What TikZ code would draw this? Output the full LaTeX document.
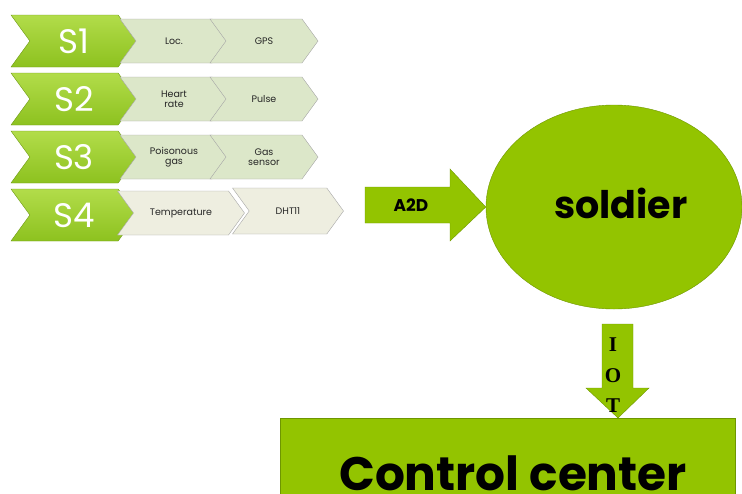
\documentclass[tikz,border=0pt]{standalone}
\usepackage{fontspec}
\setmainfont{Poppins}
\newfontfamily\iotfont{Liberation Serif}
\usetikzlibrary{shapes.symbols, shapes.geometric, shapes.arrows, positioning}

\definecolor{leafgreen}{HTML}{8DC21F}
\definecolor{leaflight}{HTML}{B2DC4A}
\definecolor{leafdark}{HTML}{6E9A14}
\definecolor{palegreen}{HTML}{DCE7C9}
\definecolor{palecream}{HTML}{EEEEE0}
\definecolor{olivegreen}{HTML}{93C400}
\definecolor{olivedark}{HTML}{6E9600}

\begin{document}
\begin{tikzpicture}[
  x=1pt, y=-1pt,
  sensor/.style={signal, signal to=east, signal from=west, signal pointer angle=108,
    minimum width=126pt, minimum height=52pt, inner sep=0pt, draw=leafdark, thin,
    top color=leaflight, bottom color=leafgreen, text=white, font=\fontsize{34}{34}\selectfont},
  item/.style={signal, signal to=east, signal from=west, signal pointer angle=108,
    minimum width=108pt, minimum height=44pt, inner sep=0pt, draw=gray!70, thin,
    fill=palegreen, text=black!85, align=center, font=\fontsize{9.5}{10.5}\selectfont},
  itemlight/.style={item, fill=palecream},
  bigarrow/.style={fill=olivegreen, draw=olivedark, thin},
  bold/.style={font=\bfseries\fontsize{#1}{#1}\selectfont},
  iotletter/.style={font=\iotfont\bfseries\fontsize{21}{21}\selectfont, inner sep=0pt}
]
  \useasboundingbox (0,0) rectangle (742,493);

  % sensor rows
  \node[sensor] (s1) at (74,41) {S1};
  \node[item] (loc) at (174,41) {Loc.};
  \node[item] (gps) at (264,41) {GPS};

  \node[sensor] (s2) at (74,99) {S2};
  \node[item] (heart) at (174,99) {Heart\\rate};
  \node[item] (pulse) at (264,99) {Pulse};

  \node[sensor] (s3) at (74,157) {S3};
  \node[item] (poison) at (174,157) {Poisonous\\gas};
  \node[item] (gas) at (264,157) {Gas\\sensor};

  \node[sensor] (s4) at (74,215) {S4};
  \node[itemlight, minimum width=127pt] (temp) at (181,213) {Temperature};
  \node[itemlight, minimum width=111pt, minimum height=46pt] (dht) at (288,211) {DHT11};

  % soldier
  \node[ellipse, bigarrow, minimum width=256pt, minimum height=204pt] (soldier) at (614,207) {};
  \node[bold=38] (soldiertext) at (621,203) {soldier};

  % A2D arrow
  \draw[bigarrow] (365,187) -- (450,187) -- (450,169) -- (soldier.west) -- (450,241) -- (450,223) -- (365,223) -- cycle;
  \node[bold=17] (a2d) at (411,205) {A2D};

  % control center
  \draw[bigarrow] (280,520) -- (280,418) coordinate (ccnw) -- (735,418) -- (735,520);
  \node[bold=47, anchor=base, inner sep=0pt] (control) at (513,490) {Control center};

  % IOT arrow
  \coordinate (iottip) at (618,418);
  \draw[bigarrow] (602,324) -- (633,324) -- (633,388) -- (649,388) -- (iottip) -- (586,388) -- (602,388) -- cycle;
  \node[iotletter] (iot) at (613,345) {I};
  \node[iotletter] (iot2) at (613,376) {O};
  \node[iotletter] (iot3) at (613,406) {T};
\end{tikzpicture}
\end{document}
